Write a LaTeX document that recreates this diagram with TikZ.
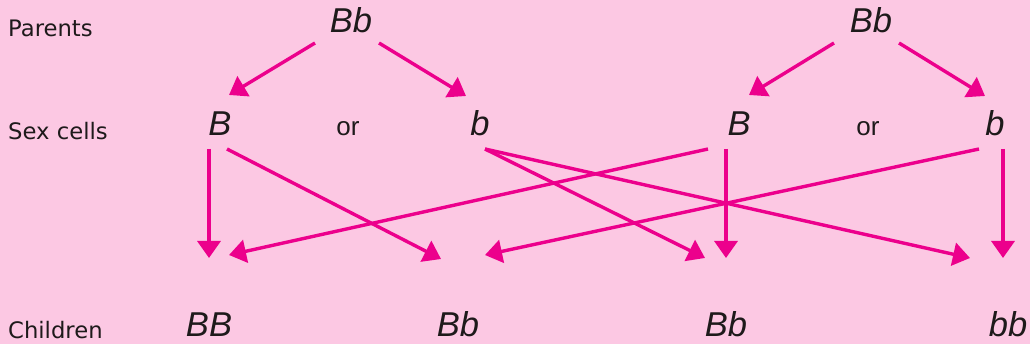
\documentclass[tikz,border=0pt]{standalone}
\usepackage{fontspec}
\usetikzlibrary{arrows.meta}
\newfontfamily\labfont{DejaVu Sans}
\newfontfamily\genfont{Liberation Sans}
\definecolor{bgpink}{HTML}{FCC8E3}
\definecolor{arrmag}{HTML}{EC008C}
\definecolor{txtdark}{HTML}{1E1A1B}
\begin{document}
\begin{tikzpicture}[x=1pt,y=-1pt,
  lab/.style={anchor=base west,inner sep=0pt,text=txtdark,font=\labfont\fontsize{22.7}{26}\selectfont},
  gene/.style={anchor=base,inner sep=0pt,text=txtdark,font=\genfont\itshape\fontsize{34.5}{40}\selectfont},
  ortext/.style={anchor=base,inner sep=0pt,text=txtdark,font=\genfont\fontsize{26}{30}\selectfont},
  arr/.style={draw=arrmag,line width=3.4pt,-{Triangle[length=17pt,width=23pt]}}]
\fill[bgpink] (0,0) rectangle (1030,344);
\useasboundingbox (0,0) rectangle (1030,344);
% labels
\node[lab] (parents) at (8,37) {Parents};
\node[lab] (sexcells) at (8,140) {Sex cells};
\node[lab] (children) at (8,338) {Children};
% parents
\node[gene] (p1) at (351,33) {Bb};
\node[gene] (p2) at (871,33) {Bb};
% sex cells
\node[gene] (s1B) at (220,136) {B};
\node[ortext] (or1) at (348,136) {or};
\node[gene] (s1b) at (480,136) {b};
\node[gene] (s2B) at (739,136) {B};
\node[ortext] (or2) at (868,136) {or};
\node[gene] (s2b) at (995,136) {b};
% children
\node[gene] (c1) at (209,337) {BB};
\node[gene] (c2) at (458,337) {Bb};
\node[gene] (c3) at (726,337) {Bb};
\node[gene] (c4) at (1008,337) {bb};
% connector points
\coordinate (p1L) at (315,43); \coordinate (p1R) at (379,43);
\coordinate (p2L) at (834,43); \coordinate (p2R) at (899,43);
\coordinate (s1Bt) at (229,95); \coordinate (s1bt) at (466,96);
\coordinate (s2Bt) at (749,95); \coordinate (s2bt) at (985,96);
\coordinate (s1Bv) at (209,149); \coordinate (s1Bd) at (227,149);
\coordinate (s1bo) at (485,149);
\coordinate (s2Bd) at (708,149); \coordinate (s2Bv) at (726,149);
\coordinate (s2bd) at (979,149); \coordinate (s2bv) at (1003,149);
\coordinate (c1a) at (209,258); \coordinate (c1b) at (229,255);
\coordinate (c2a) at (441,259); \coordinate (c2b) at (485,255);
\coordinate (c3a) at (705,258); \coordinate (c3b) at (726,258);
\coordinate (c4a) at (970,258); \coordinate (c4b) at (1003,258);
% arrows
\draw[arr] (p1L) -- (s1Bt);
\draw[arr] (p1R) -- (s1bt);
\draw[arr] (p2L) -- (s2Bt);
\draw[arr] (p2R) -- (s2bt);
\draw[arr] (s1Bv) -- (c1a);
\draw[arr] (s1Bd) -- (c2a);
\draw[arr] (s2Bd) -- (c1b);
\draw[arr] (s1bo) -- (c3a);
\draw[arr] (s1bo) -- (c4a);
\draw[arr] (s2Bv) -- (c3b);
\draw[arr] (s2bd) -- (c2b);
\draw[arr] (s2bv) -- (c4b);
\end{tikzpicture}
\end{document}
